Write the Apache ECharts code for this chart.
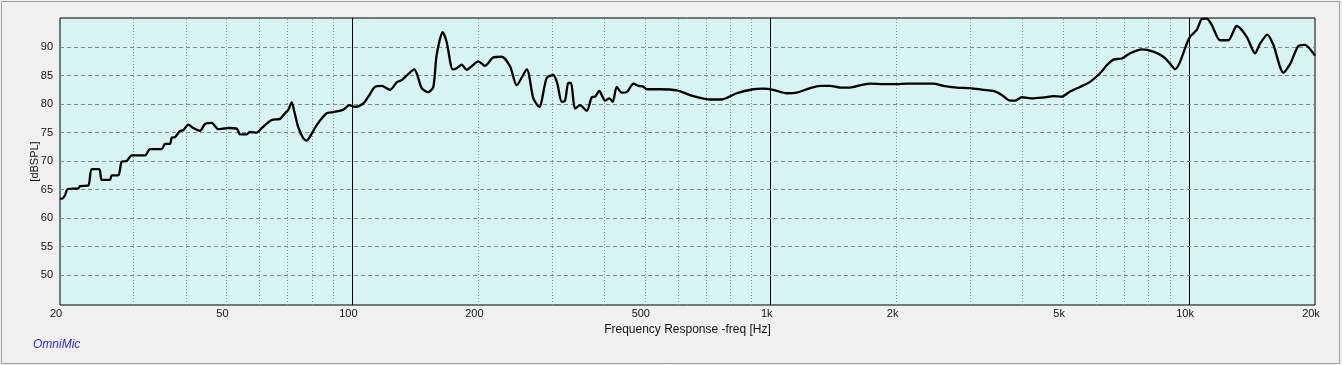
<!DOCTYPE html>
<html>
<head>
<meta charset="utf-8">
<script src="https://cdn.jsdelivr.net/npm/echarts@6/dist/echarts.min.js"></script>
<style>
html,body{margin:0;padding:0;background:#f0f0f0;}
#c{width:1342px;height:365px;}
</style>
</head>
<body>
<div id="c"></div>
<script>
var freqs = [20.0,20.22,20.56,20.87,22.12,22.33,23.37,23.81,24.83,25.16,26.34,26.58,27.57,28.09,28.87,29.68,31.94,32.83,35.01,35.65,36.64,36.99,37.67,38.72,39.43,40.53,41.66,43.22,44.43,46.10,47.80,50.51,52.90,53.87,55.89,56.91,59.05,60.70,64.13,67.13,69.01,70.27,71.60,72.63,74.25,76.32,77.76,79.19,82.17,86.82,90.03,95.12,98.31,101.44,106.18,109.15,113.24,117.50,122.99,127.61,131.17,135.28,140.60,142.94,146.45,151.86,156.1,159.0,164.4,168.0,173.7,177.6,182.5,187.6,191.8,200.0,207.5,217.3,227.5,238.2,247.1,261.1,270.7,279.8,291.4,302.2,308.9,316.5,322.3,328.2,333.1,340.5,350.0,363.2,373.4,380.2,389.3,401.7,411.3,419.1,428.4,440.4,454.2,469.5,482.6,494.4,505.4,543.6,596.2,653.2,715.9,763.5,829.3,908.7,960.2,1014.3,1092.0,1154.0,1241.7,1312.0,1385.9,1464.4,1547.0,1635.0,1727.4,1858.5,2000.6,2113.9,2274.6,2447.6,2585.7,2783.6,2995.0,3222.6,3405.1,3565.4,3733.5,3838.0,3981.8,4243.6,4567.6,4737.5,4962,5193,5487,5798,6127,6357,6592,6903,7226,7706,8213,8678,9005,9256,9517,9872,10053,10431,10722,11021,11328,11858,12413,13000,13736,14378,14779,15385,15902,16802,17432,18247,18931,19384,20000];
var spl = [63.4,63.4,64.0,65.1,65.2,65.6,65.7,68.6,68.6,66.7,66.7,67.5,67.5,69.9,70.0,71.0,71.0,72.1,72.1,73.0,73.0,74.1,74.2,75.3,75.4,76.4,75.8,75.3,76.5,76.7,75.6,75.8,75.7,74.7,74.7,75.1,75.0,75.8,77.2,77.4,78.4,79.0,80.3,78.7,75.9,74.0,73.6,74.3,76.3,78.4,78.6,79.0,79.8,79.5,80.1,81.3,83.0,83.2,82.5,83.8,84.2,85.1,86.1,85.1,82.8,82.1,83.0,88.6,92.6,90.9,86.1,86.3,86.9,86.0,86.5,87.5,86.7,88.2,88.3,86.6,83.3,86.1,81.0,79.5,84.6,85.1,83.6,80.4,80.6,83.7,83.7,79.2,79.8,78.8,81.2,81.3,82.3,80.6,81.0,80.4,83.0,82.0,82.2,83.6,83.2,83.1,82.6,82.6,82.4,81.4,80.8,80.8,81.9,82.6,82.7,82.5,81.9,82.0,82.8,83.2,83.2,82.9,82.9,83.3,83.6,83.5,83.5,83.6,83.6,83.6,83.2,82.9,82.8,82.5,82.3,81.6,80.6,80.6,81.2,81.0,81.2,81.4,81.3,82.2,83.0,83.9,85.4,86.8,87.8,88.0,88.9,89.6,89.2,88.3,87.1,86.1,87.4,90.6,91.8,93.0,94.9,95.0,93.9,91.2,91.2,93.7,91.8,88.9,90.6,92.2,90.4,85.5,87.0,90.2,90.4,89.8,88.5];

var xTickValues = [20,50,100,200,500,1000,2000,5000,10000,20000];
var xTickLabels = ['20','50','100','200','500','1k','2k','5k','10k','20k'];
var yTickValues = [50,55,60,65,70,75,80,85,90];
var minorFreqs = [30,40,50,60,70,80,90,200,300,400,500,600,700,800,900,2000,3000,4000,5000,6000,7000,8000,9000];
var majorFreqs = [100,1000,10000];

var chart = echarts.init(document.getElementById('c'), null, {renderer:'canvas'});

var lineData = freqs.map(function(f,i){return [f, spl[i]];});
var mlData = [];
minorFreqs.forEach(function(f){
  mlData.push({xAxis:f, lineStyle:{color:'#8a9a9a', type:[1,2], width:1}});
});
majorFreqs.forEach(function(f){
  mlData.push({xAxis:f, lineStyle:{color:'#000000', type:'solid', width:1}});
});
yTickValues.forEach(function(v){
  mlData.push({yAxis:v, lineStyle:{color:'#7f8c8c', type:[4,3], width:1}});
});

chart.setOption({
  animation:false,
  backgroundColor:'#f0f0f0',
  graphic:[
    {type:'rect', shape:{x:1.5,y:1.5,width:1338,height:362}, style:{fill:'none', stroke:'#a0a0a0', lineWidth:1}, z:-1},
    {type:'text', left:33, top:339, style:{text:'OmniMic', fill:'#2b2bb8', font:'italic 12px "Liberation Sans", Arial, sans-serif'}}
  ],
  grid:{left:60, right:27, top:18, bottom:60, show:true, backgroundColor:'#d8f3f3', borderColor:'#000000', borderWidth:1},
  xAxis:{
    type:'log', logBase:10, min:20, max:20000,
    name:'Frequency Response -freq [Hz]', nameLocation:'middle', nameGap:15, nameMoveOverlap:true,
    nameTextStyle:{color:'#111', fontSize:12, fontFamily:'Liberation Sans'},
    axisLine:{show:false}, axisTick:{show:false}, splitLine:{show:false}, minorTick:{show:false},
    axisLabel:{customValues:xTickValues, color:'#111', fontSize:11, fontFamily:'Liberation Sans', margin:3, padding:[0,8,0,0],
      formatter:function(v){var i=xTickValues.indexOf(Math.round(v)); return i>=0?xTickLabels[i]:'';}}
  },
  yAxis:{
    type:'value', min:44.75, max:95.1,
    name:'[dBSPL]', nameLocation:'middle', nameGap:20, nameMoveOverlap:false,
    nameTextStyle:{color:'#111', fontSize:11, fontFamily:'Liberation Sans'},
    axisLine:{show:false}, axisTick:{show:false}, splitLine:{show:false},
    axisLabel:{customValues:yTickValues, color:'#111', fontSize:11, fontFamily:'Liberation Sans', margin:7}
  },
  series:[{
    type:'line', data:lineData, showSymbol:false, smooth:0.25,
    lineStyle:{color:'#000', width:2.3}, z:5,
    markLine:{silent:true, symbol:['none','none'], label:{show:false}, animation:false, data:mlData, z:3}
  }]
});
</script>
</body>
</html>
